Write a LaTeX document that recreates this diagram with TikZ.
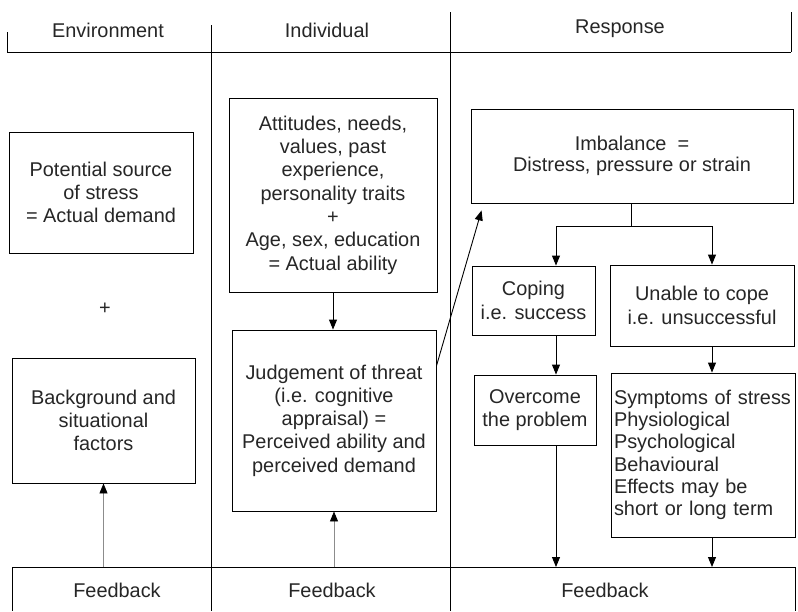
\documentclass[tikz,border=0pt]{standalone}
\usepackage{fontspec}
\setmainfont{Liberation Sans}
\usetikzlibrary{arrows.meta,calc}
\begin{document}
\begin{tikzpicture}[x=1pt,y=-1pt,
  every node/.style={font=\fontsize{19.9}{23.3}\selectfont, text=black!85},
  box/.style={draw, line width=0.9pt, align=center, inner sep=0pt},
  rule/.style={line width=0.9pt},
  arr/.style={line width=0.9pt, -{Triangle[length=10pt,width=8pt]}},
  garr/.style={line width=0.9pt, draw=black!45, -{Triangle[length=10pt,width=8pt,color=black]}},
  lbl/.style={inner sep=0pt}]
\useasboundingbox (0,0) rectangle (798,611);

% frame rules
\coordinate (hl) at (7,52);
\coordinate (hr) at (791,52);
\coordinate (fbL) at (12,567);
\coordinate (fbR) at (795,567);
\coordinate (v1t) at (211,25);
\coordinate (v1b) at (211,611);
\coordinate (v2t) at (450,12);
\coordinate (v2b) at (450,611);
\draw[rule] (hl) -- (hr);
\draw[rule] (7,32) -- (hl);
\draw[rule] (791,12) -- (hr);
\draw[rule] (v1t) -- (v1b);
\draw[rule] (v2t) -- (v2b);
\draw[rule] (fbL) -- (fbR);
\draw[rule] (fbL) -- (12,611);
\draw[rule] (fbR) -- (795,611);

% headers
\node[lbl] (henv) at (108,30) {Environment};
\node[lbl] (hind) at (327,30) {Individual};
\node[lbl] (hres) at (620,29) {Response};

% feedback labels
\node[lbl] (fb1) at (117,590) {Feedback};
\node[lbl] (fb2) at (332,590) {Feedback};
\node[lbl] (fb3) at (605,590) {Feedback};

% environment column
\node[box, minimum width=184pt, minimum height=121pt] (pot) at (101,192.5)
  {Potential source\\of stress\\= Actual demand};
\node[lbl] (plus1) at (105,309) {+};
\node[box, minimum width=183pt, minimum height=125pt] (bg) at (103.5,420.5)
  {Background and\\situational\\factors};

% individual column
\node[box, minimum width=208pt, minimum height=194pt] (att) at (333,195)
  {Attitudes, needs,\\values, past\\experience,\\personality traits\\+\\Age, sex, education\\= Actual ability};
\node[box, minimum width=204pt, minimum height=181pt] (judg) at (334,420.5)
  {Judgement of threat\\(i.e. cognitive\\appraisal) =\\Perceived ability and\\perceived demand};

% response column
\node[box, minimum width=322pt, minimum height=94pt] (imb) at (632,156)
  {Imbalance\ \ =\\[-3pt]Distress, pressure or strain};
\node[box, minimum width=123pt, minimum height=69pt] (cop) at (533.5,300.5)
  {Coping\\i.e. success};
\node[box, minimum width=184pt, minimum height=81pt] (unab) at (702,305.5)
  {Unable to cope\\i.e. unsuccessful};
\node[box, minimum width=122pt, minimum height=70pt] (over) at (535,410)
  {Overcome\\the problem};
\node[box, minimum width=184pt, minimum height=164pt, text width=178pt, align=left] (sym) at (703,455)
  {Symptoms of stress\\[-1pt]Physiological\\[-1pt]Psychological\\[-1pt]Behavioural\\[-1pt]Effects may be\\[-1pt]short or long term};

% connectors
\coordinate (split) at (631,226);
\coordinate (L) at (556,226);
\coordinate (R) at (712,226);
\draw[garr] (bg.south |- fbL) -- (bg.south);
\draw[garr] (judg.south |- fbL) -- (judg.south);
\draw[arr] (att.south) -- (att.south |- judg.north);
\draw[arr] ($(judg.north east)!0.2!(judg.south east)$) -- ([xshift=11pt,yshift=-7pt]imb.south west);
\draw[rule] (imb.south -| split) -- (split);
\draw[rule] (L) -- (R);
\draw[arr] (L) -- (L |- cop.north);
\draw[arr] (R) -- (R |- unab.north);
\draw[arr] (L |- cop.south) -- (L |- over.north);
\draw[arr] (R |- unab.south) -- (R |- sym.north);
\draw[arr] (L |- over.south) -- (L |- fbL);
\draw[arr] (R |- sym.south) -- (R |- fbL);
\end{tikzpicture}
\end{document}
